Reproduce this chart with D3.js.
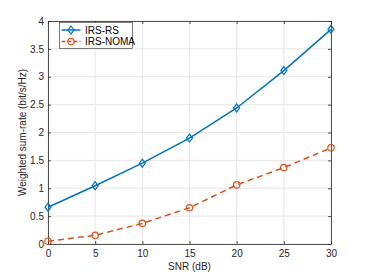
<!DOCTYPE html>
<html><head><meta charset="utf-8">
<script src="https://cdn.jsdelivr.net/npm/d3@7"></script>
<style>body{margin:0;background:#fff}svg{display:block}text{font-family:"Liberation Sans",Arial,sans-serif}</style>
</head><body>
<script>
const snr = [0, 5, 10, 15, 20, 25, 30];
const irsRS = [0.66, 1.045, 1.45, 1.9, 2.44, 3.11, 3.85];
const irsNOMA = [0.05, 0.155, 0.37, 0.65, 1.06, 1.37, 1.725];
const xTicks = [0, 5, 10, 15, 20, 25, 30];
const yTicks = [0, 0.5, 1, 1.5, 2, 2.5, 3, 3.5, 4];
const seriesNames = ["IRS-RS", "IRS-NOMA"];

const W = 366, H = 274;
const m = {l: 48, r: 35, t: 21, b: 30};
const svg = d3.select("body").append("svg").attr("width", W).attr("height", H);
const x = d3.scaleLinear().domain([0, 30]).range([m.l, W - m.r]);
const y = d3.scaleLinear().domain([0, 4]).range([H - m.b, m.t]);
const axisCol = "#262626";

// grid
const g = svg.append("g");
g.selectAll(".gx").data(xTicks).enter().append("line")
  .attr("x1", d => x(d)).attr("x2", d => x(d)).attr("y1", y(0)).attr("y2", y(4))
  .attr("stroke", "#e6e6e6").attr("stroke-width", 1);
g.selectAll(".gy").data(yTicks).enter().append("line")
  .attr("y1", d => y(d)).attr("y2", d => y(d)).attr("x1", x(0)).attr("x2", x(30))
  .attr("stroke", "#e6e6e6").attr("stroke-width", 1);

// axes
const xa = svg.append("g").attr("transform", `translate(0,${y(0)})`)
  .call(d3.axisBottom(x).tickValues(xTicks).tickSizeInner(-3).tickSizeOuter(0).tickPadding(6));
const xt = svg.append("g").attr("transform", `translate(0,${y(4)})`)
  .call(d3.axisTop(x).tickValues(xTicks).tickSizeInner(-3).tickSizeOuter(0).tickFormat(""));
const ya = svg.append("g").attr("transform", `translate(${x(0)},0)`)
  .call(d3.axisLeft(y).tickValues(yTicks).tickSizeInner(-3).tickSizeOuter(0).tickPadding(4).tickFormat(d3.format("")));
const yr = svg.append("g").attr("transform", `translate(${x(30)},0)`)
  .call(d3.axisRight(y).tickValues(yTicks).tickSizeInner(-3).tickSizeOuter(0).tickFormat(""));
[xa, xt, ya, yr].forEach(a => {
  a.select(".domain").attr("stroke", axisCol).attr("stroke-width", 0.8);
  a.selectAll(".tick line").attr("stroke", axisCol).attr("stroke-width", 0.8);
  a.selectAll(".tick text").attr("fill", axisCol).attr("font-size", 10);
});

// labels
svg.append("text").attr("x", (x(0) + x(30)) / 2).attr("y", H - 4).attr("text-anchor", "middle")
  .attr("font-size", 10).attr("fill", axisCol).text("SNR (dB)");
svg.append("text").attr("transform", `translate(${26},${(y(0) + y(4)) / 2}) rotate(-90)`)
  .attr("text-anchor", "middle").attr("font-size", 10).attr("fill", axisCol).text("Weighted sum-rate (bit/s/Hz)");

const colors = ["#0072BD", "#D95319"];
const line = d3.line().x((d, i) => x(snr[i])).y(d => y(d));
svg.append("path").datum(irsRS).attr("d", line).attr("fill", "none").attr("stroke", colors[0]).attr("stroke-width", 1.5);
svg.append("path").datum(irsNOMA).attr("d", line).attr("fill", "none").attr("stroke", colors[1]).attr("stroke-width", 1.5).attr("stroke-dasharray", "6,4");

const diamond = (cx, cy, s) => `M${cx},${cy - s}L${cx + s * 0.75},${cy}L${cx},${cy + s}L${cx - s * 0.75},${cy}Z`;
svg.selectAll(".mRS").data(irsRS).enter().append("path")
  .attr("d", (d, i) => diamond(x(snr[i]), y(d), 4)).attr("fill", "none").attr("stroke", colors[0]).attr("stroke-width", 1.2);
svg.selectAll(".mNO").data(irsNOMA).enter().append("circle")
  .attr("cx", (d, i) => x(snr[i])).attr("cy", d => y(d)).attr("r", 3.2)
  .attr("fill", "none").attr("stroke", colors[1]).attr("stroke-width", 1.2);

// legend
const lg = svg.append("g").attr("transform", "translate(59.5,22.5)");
lg.append("rect").attr("width", 73).attr("height", 26).attr("fill", "#fff").attr("stroke", axisCol).attr("stroke-width", 0.6);
seriesNames.forEach((n, i) => {
  const yy = 7.5 + i * 11.5;
  lg.append("line").attr("x1", 2).attr("x2", 21).attr("y1", yy).attr("y2", yy)
    .attr("stroke", colors[i]).attr("stroke-width", 1.5).attr("stroke-dasharray", i ? "4,2" : null);
  if (i === 0) lg.append("path").attr("d", diamond(11.5, yy, 4)).attr("fill", "none").attr("stroke", colors[0]).attr("stroke-width", 1.2);
  else lg.append("circle").attr("cx", 11.5).attr("cy", yy).attr("r", 3.2).attr("fill", "none").attr("stroke", colors[1]).attr("stroke-width", 1.2);
  lg.append("text").attr("x", 25.5).attr("y", yy + 3.5).attr("font-size", 10).attr("fill", "#000").text(n);
});
</script>
</body></html>
